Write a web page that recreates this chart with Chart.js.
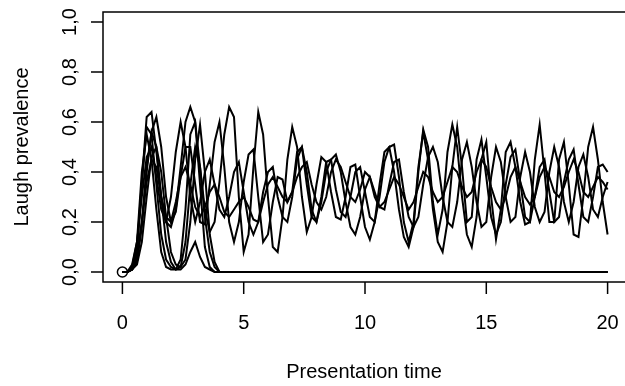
<!DOCTYPE html>
<html>
<head>
<meta charset="utf-8">
<script src="https://cdn.jsdelivr.net/npm/chart.js@4/dist/chart.umd.min.js"></script>
<style>
  html, body { margin: 0; padding: 0; background: #fff; overflow: hidden; }
  canvas { display: block; }
</style>
</head>
<body>
<canvas id="laughChart" width="640" height="386"></canvas>
<script>
// time grid for the persistent runs
const times = [0,0.2,0.4,0.6,0.8,1,1.2,1.4,1.6,1.8,2,2.2,2.4,2.6,2.8,3,3.2,3.4,3.6,3.8,
  4,4.2,4.4,4.6,4.8,5,5.2,5.4,5.6,5.8,6,6.2,6.4,6.6,6.8,7,7.2,7.4,7.6,7.8,
  8,8.2,8.4,8.6,8.8,9,9.2,9.4,9.6,9.8,10,10.2,10.4,10.6,10.8,11,11.2,11.4,11.6,11.8,
  12,12.2,12.4,12.6,12.8,13,13.2,13.4,13.6,13.8,14,14.2,14.4,14.6,14.8,15,15.2,15.4,15.6,15.8,
  16,16.2,16.4,16.6,16.8,17,17.2,17.4,17.6,17.8,18,18.2,18.4,18.6,18.8,19,19.2,19.4,19.6,19.8,20];

// runs where laughter keeps going
const run1 = [0,0,0.02,0.1,0.36,0.62,0.64,0.48,0.3,0.2,0.18,0.25,0.42,0.6,0.66,0.6,0.42,0.25,0.16,0.2,
  0.36,0.55,0.66,0.62,0.3,0.08,0.15,0.42,0.64,0.55,0.3,0.1,0.08,0.22,0.45,0.58,0.5,0.3,0.16,0.22,
  0.35,0.46,0.44,0.32,0.22,0.21,0.3,0.42,0.43,0.3,0.18,0.13,0.2,0.35,0.48,0.5,0.4,0.25,0.14,0.1,
  0.18,0.4,0.57,0.5,0.28,0.15,0.25,0.48,0.59,0.5,0.3,0.15,0.1,0.22,0.45,0.52,0.3,0.13,0.25,0.48,
  0.52,0.42,0.28,0.19,0.2,0.45,0.59,0.4,0.2,0.2,0.45,0.52,0.35,0.15,0.14,0.3,0.5,0.58,0.45,0.28,0.15];
const run2 = [0,0,0.01,0.05,0.2,0.42,0.56,0.62,0.5,0.3,0.2,0.24,0.38,0.5,0.5,0.35,0.2,0.19,0.35,0.52,
  0.6,0.42,0.2,0.12,0.2,0.36,0.47,0.49,0.3,0.12,0.15,0.28,0.38,0.37,0.28,0.32,0.48,0.5,0.35,0.22,
  0.2,0.3,0.44,0.45,0.33,0.24,0.22,0.3,0.4,0.42,0.32,0.22,0.2,0.3,0.44,0.5,0.51,0.38,0.2,0.12,
  0.2,0.42,0.56,0.45,0.25,0.12,0.08,0.2,0.42,0.58,0.42,0.2,0.22,0.45,0.53,0.38,0.22,0.15,0.2,0.35,
  0.46,0.49,0.36,0.22,0.2,0.3,0.42,0.45,0.32,0.2,0.22,0.36,0.45,0.49,0.35,0.22,0.2,0.3,0.42,0.43,0.4];
const run3 = [0,0,0.03,0.12,0.3,0.46,0.5,0.38,0.25,0.2,0.3,0.48,0.6,0.5,0.3,0.2,0.28,0.4,0.45,0.35,
  0.25,0.22,0.3,0.4,0.44,0.32,0.2,0.15,0.2,0.32,0.4,0.42,0.3,0.22,0.2,0.3,0.45,0.5,0.4,0.25,
  0.2,0.28,0.4,0.45,0.47,0.4,0.28,0.18,0.15,0.22,0.33,0.38,0.32,0.26,0.25,0.35,0.44,0.45,0.32,0.22,
  0.18,0.22,0.35,0.46,0.5,0.44,0.3,0.2,0.18,0.28,0.45,0.52,0.42,0.28,0.18,0.2,0.38,0.5,0.44,0.3,
  0.2,0.22,0.38,0.48,0.4,0.26,0.2,0.24,0.4,0.5,0.42,0.28,0.2,0.28,0.42,0.47,0.38,0.25,0.22,0.3,0.36];
const run4 = [0,0,0.01,0.06,0.2,0.36,0.45,0.42,0.3,0.22,0.2,0.28,0.38,0.42,0.35,0.26,0.22,0.26,0.32,0.35,
  0.3,0.24,0.22,0.25,0.28,0.3,0.26,0.21,0.2,0.28,0.35,0.38,0.34,0.3,0.28,0.32,0.38,0.42,0.44,0.35,
  0.28,0.25,0.3,0.4,0.45,0.42,0.36,0.3,0.28,0.33,0.4,0.38,0.3,0.26,0.28,0.33,0.38,0.35,0.3,0.25,
  0.28,0.34,0.4,0.38,0.32,0.28,0.3,0.36,0.42,0.4,0.34,0.3,0.32,0.4,0.45,0.42,0.34,0.28,0.25,0.3,
  0.38,0.42,0.36,0.3,0.27,0.3,0.38,0.42,0.38,0.32,0.3,0.34,0.4,0.45,0.4,0.32,0.3,0.34,0.38,0.36,0.33];

// runs that die out, flat at zero until the end
const dyingTimes = [0,0.2,0.4,0.6,0.8,1,1.2,1.4,1.6,1.8,2,2.2,2.4,2.6,2.8,3,3.2,3.4,3.6,3.8,4,20];
const run5 = [0,0,0.01,0.08,0.35,0.58,0.55,0.35,0.15,0.05,0.02,0.01,0.05,0.25,0.55,0.6,0.35,0.1,0.02,0,0,0];
const run6 = [0,0,0.01,0.04,0.18,0.4,0.56,0.5,0.3,0.12,0.04,0.01,0.02,0.12,0.35,0.5,0.42,0.22,0.08,0.02,0,0];
const run7 = [0,0,0.02,0.12,0.4,0.55,0.45,0.25,0.08,0.02,0.01,0.01,0.01,0.03,0.08,0.12,0.06,0.02,0.01,0,0,0];
const run8 = [0,0,0.01,0.03,0.12,0.3,0.46,0.5,0.4,0.22,0.08,0.03,0.02,0.05,0.2,0.45,0.59,0.4,0.15,0.04,0,0];

const startPoint = [{ x: 0, y: 0 }];

const xTicks = [0, 5, 10, 15, 20];
const yTicks = [0, 0.2, 0.4, 0.6, 0.8, 1.0];

const toPoints = (xs, ys) => ys.map((v, i) => ({ x: xs[i], y: v }));

const lineStyle = {
    borderColor: '#000',
    borderWidth: 2,
    pointRadius: 0,
    fill: false,
    tension: 0
};

// R style box + axes, drawn with the chart's scales
const baseAxes = {
    id: 'baseAxes',
    afterDraw(chart) {
        const { ctx, chartArea: ca } = chart;
        const xs = chart.scales.x, ys = chart.scales.y;
        ctx.save();
        ctx.strokeStyle = '#000';
        ctx.fillStyle = '#000';
        ctx.lineWidth = 1.5;
        ctx.strokeRect(ca.left, ca.top, ca.right - ca.left, ca.bottom - ca.top);

        ctx.font = '20px "Liberation Sans", Arial, sans-serif';
        ctx.textAlign = 'center';
        ctx.textBaseline = 'middle';

        xTicks.forEach(v => {
            const px = xs.getPixelForValue(v);
            ctx.beginPath();
            ctx.moveTo(px, ca.bottom);
            ctx.lineTo(px, ca.bottom + 12);
            ctx.stroke();
            ctx.fillText(String(v), px, ca.bottom + 41);
        });

        yTicks.forEach(v => {
            const py = ys.getPixelForValue(v);
            ctx.beginPath();
            ctx.moveTo(ca.left - 12, py);
            ctx.lineTo(ca.left, py);
            ctx.stroke();
            ctx.save();
            ctx.translate(ca.left - 33, py);
            ctx.rotate(-Math.PI / 2);
            ctx.fillText(v.toFixed(1).replace('.', ','), 0, 0);
            ctx.restore();
        });

        ctx.fillText('Presentation time', 364, 372);
        ctx.save();
        ctx.translate(22, (ca.top + ca.bottom) / 2);
        ctx.rotate(-Math.PI / 2);
        ctx.fillText('Laugh prevalence', 0, 0);
        ctx.restore();
        ctx.restore();
    }
};

new Chart(document.getElementById('laughChart'), {
    type: 'line',
    data: {
        datasets: [
            { ...lineStyle, data: toPoints(times, run1) },
            { ...lineStyle, data: toPoints(times, run2) },
            { ...lineStyle, data: toPoints(times, run3) },
            { ...lineStyle, data: toPoints(times, run4) },
            { ...lineStyle, data: toPoints(dyingTimes, run5) },
            { ...lineStyle, data: toPoints(dyingTimes, run6) },
            { ...lineStyle, data: toPoints(dyingTimes, run7) },
            { ...lineStyle, data: toPoints(dyingTimes, run8) },
            {
                type: 'scatter',
                data: startPoint,
                pointRadius: 5,
                pointBorderWidth: 1.5,
                pointBorderColor: '#000',
                pointBackgroundColor: 'rgba(0,0,0,0)'
            }
        ]
    },
    options: {
        responsive: false,
        animation: false,
        layout: { padding: { left: 103, top: 12, right: 13, bottom: 104 } },
        plugins: { legend: { display: false }, tooltip: { enabled: false } },
        scales: {
            x: { type: 'linear', display: false, min: -0.8, max: 20.8 },
            y: { display: false, min: -0.04, max: 1.04 }
        }
    },
    plugins: [baseAxes]
});
</script>
</body>
</html>
